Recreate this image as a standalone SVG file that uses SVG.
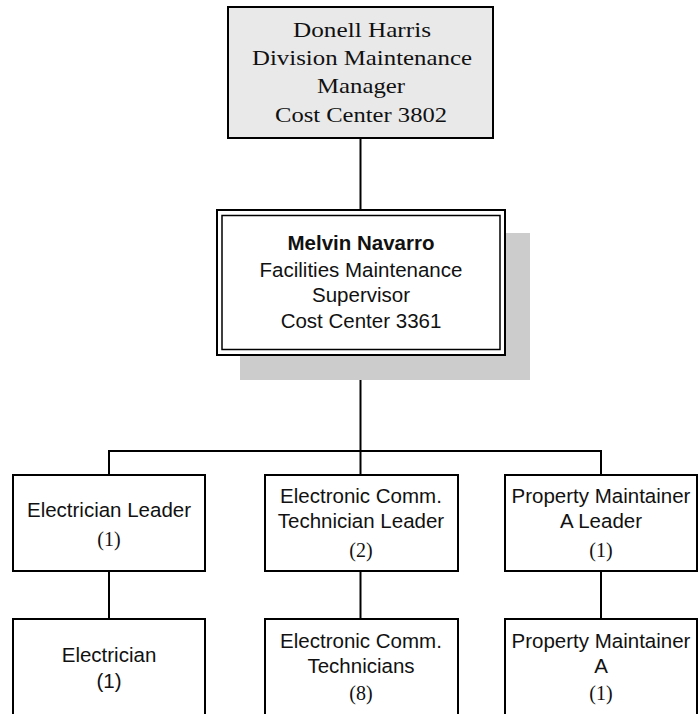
<svg xmlns="http://www.w3.org/2000/svg" width="698" height="714" viewBox="0 0 698 714">
<style>
.box{fill:#fff;stroke:#000;stroke-width:2}
.s{font-family:"Liberation Sans",Arial,sans-serif;font-size:20.5px;fill:#111;text-anchor:middle}
.r{font-family:"Liberation Serif","Times New Roman",serif;font-size:20px;fill:#111;text-anchor:middle}
.t{font-family:"Liberation Serif","Times New Roman",serif;font-size:22px;fill:#111;text-anchor:middle}
.c{stroke:#000;stroke-width:2;fill:none}
</style>
<rect width="698" height="714" fill="#fff"/>
<g id="connectors">
<line class="c" x1="360.5" y1="138" x2="360.5" y2="210"/>
<line class="c" x1="360.5" y1="355" x2="360.5" y2="475"/>
<polyline class="c" points="109,475 109,451 601,451 601,475"/>
<line class="c" x1="109" y1="571" x2="109" y2="619"/>
<line class="c" x1="360.5" y1="571" x2="360.5" y2="619"/>
<line class="c" x1="601" y1="571" x2="601" y2="619"/>
</g>
<g id="manager">
<rect x="228" y="7" width="265" height="131" fill="#e9e9e9" stroke="#000" stroke-width="2"/>
<text class="t" x="362" y="37" textLength="138" lengthAdjust="spacingAndGlyphs">Donell Harris</text>
<text class="t" x="362" y="65" textLength="220" lengthAdjust="spacingAndGlyphs">Division Maintenance</text>
<text class="t" x="361" y="93" textLength="88" lengthAdjust="spacingAndGlyphs">Manager</text>
<text class="t" x="361" y="122" textLength="172" lengthAdjust="spacingAndGlyphs">Cost Center 3802</text>
</g>
<g id="supervisor">
<rect x="240" y="233" width="290" height="147" fill="#cccccc"/>
<rect x="217" y="210" width="288" height="145" fill="#fff" stroke="#000" stroke-width="2"/>
<rect x="222" y="215.5" width="278" height="134" fill="none" stroke="#000" stroke-width="1.5"/>
<text class="s" x="361" y="250" font-weight="bold">Melvin Navarro</text>
<text class="s" x="361" y="277">Facilities Maintenance</text>
<text class="s" x="361" y="302">Supervisor</text>
<text class="s" x="361" y="328">Cost Center 3361</text>
</g>
<g id="elec-leader">
<rect class="box" x="13" y="475" width="192" height="96"/>
<text class="s" x="109" y="517">Electrician Leader</text>
<text class="r" x="109" y="546">(1)</text>
</g>
<g id="ecomm-leader">
<rect class="box" x="265" y="475" width="193" height="96"/>
<text class="s" x="361" y="503">Electronic Comm.</text>
<text class="s" x="361" y="528">Technician Leader</text>
<text class="r" x="361" y="557">(2)</text>
</g>
<g id="prop-leader">
<rect class="box" x="505" y="475" width="192" height="96"/>
<text class="s" x="601" y="503">Property Maintainer</text>
<text class="s" x="601" y="528">A Leader</text>
<text class="r" x="601" y="557">(1)</text>
</g>
<g id="electrician">
<rect class="box" x="13" y="619" width="192" height="110"/>
<text class="s" x="109" y="662">Electrician</text>
<text class="s" x="109" y="688">(1)</text>
</g>
<g id="ecomm-tech">
<rect class="box" x="265" y="619" width="193" height="110"/>
<text class="s" x="361" y="648">Electronic Comm.</text>
<text class="s" x="361" y="673">Technicians</text>
<text class="r" x="361" y="700">(8)</text>
</g>
<g id="prop-maint">
<rect class="box" x="505" y="619" width="192" height="110"/>
<text class="s" x="601" y="648">Property Maintainer</text>
<text class="s" x="601" y="673">A</text>
<text class="r" x="601" y="700">(1)</text>
</g>
</svg>
